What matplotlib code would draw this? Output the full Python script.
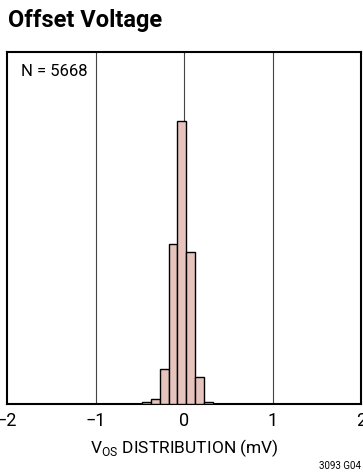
import matplotlib
matplotlib.use("Agg")
import matplotlib.pyplot as plt

# histogram data (0.1 mV bins)
bin_edges = [-0.475, -0.375, -0.275, -0.175, -0.075, 0.025, 0.125, 0.225, 0.325]
counts = [20, 40, 296, 1362, 2408, 1294, 228, 20]
x_ticks = [-2, -1, 0, 1, 2]
x_tick_labels = ["\u22122", "\u22121", "0", "1", "2"]
grid_x = [-1, 0, 1]

plt.rcParams["font.family"] = ["Roboto", "DejaVu Sans"]

fig = plt.figure(figsize=(3.63, 4.75), dpi=100)
ax = fig.add_axes([7 / 363, 71 / 475, 354 / 363, 352 / 475])

widths = [b - a for a, b in zip(bin_edges[:-1], bin_edges[1:])]
ax.bar(bin_edges[:-1], counts, width=widths, align="edge",
       color="#e6c3bd", edgecolor="black", linewidth=1.0, zorder=3)

for gx in grid_x:
    ax.axvline(gx, color="#444444", linewidth=0.8, zorder=1)

ax.set_xlim(-2, 2)
ax.set_ylim(0, 3000)
ax.set_yticks([])
ax.set_xticks(x_ticks)
ax.set_xticklabels(x_tick_labels, fontsize=13)
ax.tick_params(axis="x", length=0, pad=6)
for s in ax.spines.values():
    s.set_linewidth(1.5)

ax.set_xlabel("V$_{\\mathregular{OS}}$ DISTRIBUTION (mV)", fontsize=12.5,
              labelpad=5)

ax.text(0.04, 0.965, "N = 5668", transform=ax.transAxes, fontsize=12,
        ha="left", va="top")

fig.text(8 / 363, 1 - 20 / 475, "Offset Voltage", fontsize=17,
         fontweight="bold", ha="left", va="center")
fig.text(361 / 363, 1 - 466 / 475, "3093 G04", fontsize=7,
         ha="right", va="center")

fig.savefig("out.png", dpi=100)
